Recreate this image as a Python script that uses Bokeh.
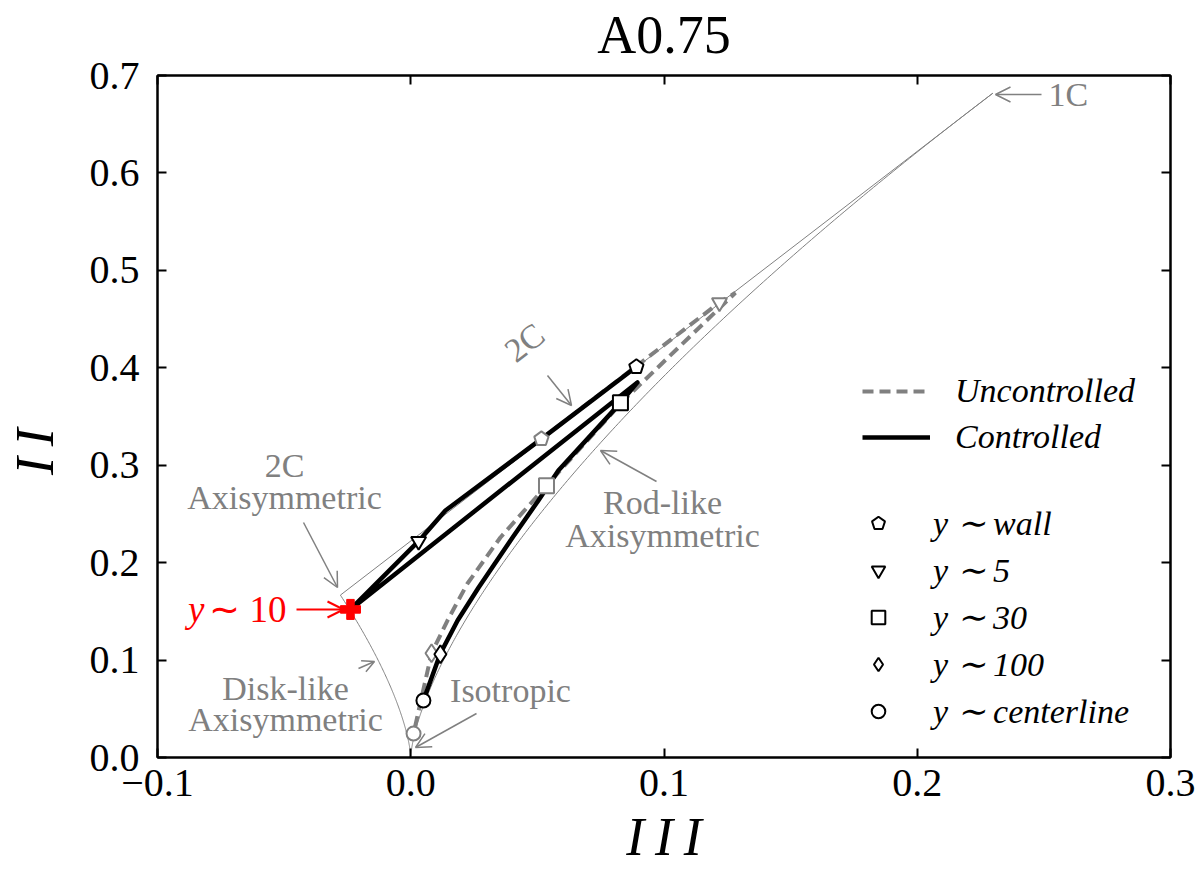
import numpy as np
from bokeh.plotting import figure
from bokeh.models import (Label, Arrow, OpenHead, Legend, LegendItem, LinearAxis,
                          Range1d, ColumnDataSource, CustomJSTickFormatter, FixedTicker)
from bokeh.embed import file_html
from bokeh.resources import INLINE

# ---------------- data ----------------
title_text = "A0.75"
x_ticks = [-0.1, 0.0, 0.1, 0.2, 0.3]
y_ticks = [0.0, 0.1, 0.2, 0.3, 0.4, 0.5, 0.6, 0.7]

# Controlled trajectory (III, II)
ctrl_III = [0.0891, 0.0516, 0.0137, 0.0031, -0.0238, 0.0895, 0.0828, 0.0583, 0.0504, 0.0402, 0.0268, 0.0185, 0.0117, 0.0050]
ctrl_II = [0.401, 0.327, 0.2535, 0.222, 0.152, 0.385, 0.364, 0.2946, 0.2638, 0.2258, 0.1745, 0.1406, 0.1067, 0.0585]

# Uncontrolled trajectory (III, II)
unc_III = [0.0516, 0.1219, 0.1282, 0.0840, 0.0536, 0.0354, 0.0224, 0.0145, 0.0082, 0.0011]
unc_II = [0.327, 0.467, 0.477, 0.3664, 0.279, 0.2258, 0.1786, 0.1406, 0.107, 0.0246]

marker_labels = ["y \u223c wall", "y \u223c 5", "y \u223c 30", "y \u223c 100", "y \u223c centerline"]
marker_types = ["pentagon", "inverted_triangle", "square", "diamond", "circle"]
marker_sizes = [0, 15, 15, 18, 14]
ctrl_mark_III = [0.0891, 0.0031, 0.0828, 0.0117, 0.0050]
ctrl_mark_II = [0.401, 0.222, 0.364, 0.106, 0.0585]
unc_mark_III = [0.0516, 0.1219, 0.0536, 0.0082, 0.0011]
unc_mark_II = [0.327, 0.467, 0.279, 0.107, 0.0246]
y10_III = [-0.0238]
y10_II = [0.152]

# Lumley-triangle boundary parameter (axisymmetric eigenvalue a): III = 6a^3, II = 6a^2
a_disk_end = -1.0 / 6.0
a_rod_end = 0.3371

GRAY = "#808080"
SERIF = "Liberation Serif"
THIN = "\u2009"

FW, FH = 1013, 682
p = figure(frame_width=FW, frame_height=FH, title=None,
           x_range=Range1d(x_ticks[0], x_ticks[-1]), y_range=Range1d(y_ticks[0], y_ticks[-1]),
           output_backend="svg", toolbar_location=None,
           min_border_left=157, min_border_right=25, min_border_top=75, min_border_bottom=122)
p.grid.visible = False
p.outline_line_color = "black"
p.outline_line_width = 2
p.background_fill_color = "white"

fmt = CustomJSTickFormatter(code="return tick.toFixed(1).replace('-', '\u2212');")
blank = CustomJSTickFormatter(code="return '';")

def style_axis(ax, show_labels, standoff):
    ax.major_tick_in = 9
    ax.major_tick_out = 0
    ax.minor_tick_in = 0
    ax.minor_tick_out = 0
    ax.major_tick_line_width = 2
    ax.major_tick_line_color = "black"
    ax.axis_line_width = 2
    ax.axis_line_color = "black"
    ax.major_label_text_font = SERIF
    ax.major_label_text_color = "black"
    ax.major_label_standoff = standoff
    ax.major_label_text_font_size = "40px"
    if not show_labels:
        ax.formatter = blank

p.xaxis.ticker = FixedTicker(ticks=x_ticks)
p.yaxis.ticker = FixedTicker(ticks=y_ticks)
p.xaxis.formatter = fmt
p.yaxis.formatter = fmt
style_axis(p.xaxis[0], True, 12)
style_axis(p.yaxis[0], True, 18)
p.xaxis.axis_label = "I" + THIN + "I" + THIN + "I"
p.yaxis.axis_label = "I" + THIN + "I" + "\u2002" + THIN * 4
for ax, so in ((p.xaxis[0], 8), (p.yaxis[0], 22)):
    ax.axis_label_text_font = SERIF
    ax.axis_label_text_font_style = "italic"
    ax.axis_label_text_font_size = "54px"
    ax.axis_label_text_color = "black"
    ax.axis_label_standoff = so

top = LinearAxis(ticker=FixedTicker(ticks=x_ticks))
right = LinearAxis(ticker=FixedTicker(ticks=y_ticks))
style_axis(top, False, 0)
style_axis(right, False, 0)
top.major_label_text_font_size = "1px"
right.major_label_text_font_size = "1px"
# chart title carried by the top axis label
top.axis_label = title_text
top.axis_label_text_font = SERIF
top.axis_label_text_font_size = "54px"
top.axis_label_text_font_style = "normal"
top.axis_label_text_color = "black"
top.axis_label_standoff = 11
p.add_layout(top, "above")
p.add_layout(right, "right")

# ---------------- boundaries ----------------
a_r = np.linspace(0.0, a_rod_end, 300)
a_d = np.linspace(a_disk_end, 0.0, 200)
p.line(6 * a_r ** 3, 6 * a_r ** 2, line_color=GRAY, line_width=1)
p.line(6 * a_d ** 3, 6 * a_d ** 2, line_color=GRAY, line_width=1)
p.line([6 * a_disk_end ** 3, 6 * a_rod_end ** 3], [6 * a_disk_end ** 2, 6 * a_rod_end ** 2],
       line_color=GRAY, line_width=1)

# ---------------- trajectories ----------------
unc_r = p.line(unc_III, unc_II, line_color=GRAY, line_width=4, line_dash="11 6")
ctrl_r = p.line(ctrl_III, ctrl_II, line_color="black", line_width=4.5, line_join="round")

# ---------------- markers ----------------
KX = FW / (x_ticks[-1] - x_ticks[0])
KY = FH / (y_ticks[-1] - y_ticks[0])

def pentagon(xc, yc, color, rad_px):
    src = ColumnDataSource(dict(x=[xc], y=[yc]))
    try:
        from bokeh.models import Ngon
        g = Ngon(x="x", y="y", radius=rad_px, radius_units="screen", n=5,
                 fill_color="white", line_color=color, line_width=2)
        return p.add_glyph(src, g)
    except Exception:
        ang = np.deg2rad(90 + 72 * np.arange(5))
        xs = [list(xc + rad_px * np.cos(ang) / KX)]
        ys = [list(yc + rad_px * np.sin(ang) / KY)]
        return p.patches(xs, ys, fill_color="white", line_color=color, line_width=2)

unc_src = ColumnDataSource(dict(x=unc_mark_III[1:], y=unc_mark_II[1:],
                                m=marker_types[1:], s=marker_sizes[1:]))
p.scatter("x", "y", source=unc_src, marker="m", size="s", fill_color="white",
          line_color=GRAY, line_width=2)
pentagon(unc_mark_III[0], unc_mark_II[0], GRAY, 7.5)

ctrl_src = ColumnDataSource(dict(x=ctrl_mark_III[1:], y=ctrl_mark_II[1:],
                                 m=marker_types[1:], s=marker_sizes[1:]))
ctrl_m = p.scatter("x", "y", source=ctrl_src, marker="m", size="s", fill_color="white",
                   line_color="black", line_width=2)
pent_ctrl = pentagon(ctrl_mark_III[0], ctrl_mark_II[0], "black", 7.5)

p.scatter(y10_III, y10_II, marker="plus", size=20, fill_color="red", line_color="red", line_width=1)

# ---------------- annotations ----------------
def px2x(px):
    return x_ticks[0] + (px - 157) / KX

def py2y(py):
    return (757 - py) / KY

def gray_label(px, py, text, angle=0.0, size="34px", align="center", color=GRAY, style="normal"):
    p.add_layout(Label(x=px2x(px), y=py2y(py), text=text, text_font=SERIF, text_font_size=size,
                       text_color=color, text_align=align, text_baseline="middle", angle=angle,
                       text_font_style=style))

def arrow(p0, p1, color=GRAY, lw=1.5, size=15):
    p.add_layout(Arrow(x_start=px2x(p0[0]), y_start=py2y(p0[1]), x_end=px2x(p1[0]), y_end=py2y(p1[1]),
                       line_color=color, line_width=lw,
                       end=OpenHead(size=size, line_color=color, line_width=lw)))

gray_label(1048, 94, "1C", align="left")
arrow((1041, 94), (995, 94))

gray_label(524, 342, "2C", angle=0.66)
arrow((547, 375), (571, 405))

gray_label(284, 465, "2C")
gray_label(284, 497, "Axisymmetric")
arrow((303, 522), (337, 587))

gray_label(662, 502, "Rod-like")
gray_label(662, 535, "Axisymmetric")
arrow((656, 481), (600, 450))

gray_label(285, 688, "Disk-like")
gray_label(285, 719, "Axisymmetric")
arrow((358, 668), (374, 661), size=12)

gray_label(510, 690, "Isotropic")
arrow((476, 713), (415, 747))

gray_label(286, 609, "\u223c 10", size="37px", align="right", color="red")
gray_label(204, 609, "y", size="37px", align="right", color="red", style="italic")
arrow((296, 609), (343, 609), color="red", lw=2, size=16)

# ---------------- legends ----------------
leg1 = Legend(items=[LegendItem(label="Uncontrolled", renderers=[unc_r]),
                     LegendItem(label="Controlled", renderers=[ctrl_r])],
              location=(705, 301), orientation="vertical")
leg2_items = [LegendItem(label=marker_labels[0], renderers=[pent_ctrl], index=0)]
for i in range(1, 5):
    leg2_items.append(LegendItem(label=marker_labels[i], renderers=[ctrl_m], index=i - 1))
leg2 = Legend(items=leg2_items, location=(704, 26), orientation="vertical")

for lg, gw, so, sp in ((leg1, 68, 25, 8), (leg2, 34, 38, 7)):
    lg.glyph_width = gw
    lg.glyph_height = 38
    lg.label_height = 38
    lg.label_standoff = so
    lg.spacing = sp
    lg.padding = 0
    lg.margin = 0
    lg.border_line_color = None
    lg.background_fill_alpha = 0
    lg.label_text_font = SERIF
    lg.label_text_font_style = "italic"
    lg.label_text_font_size = "34px"
    lg.label_text_color = "black"
    p.add_layout(lg, "center")

open("out.html", "w").write(file_html(p, INLINE))
